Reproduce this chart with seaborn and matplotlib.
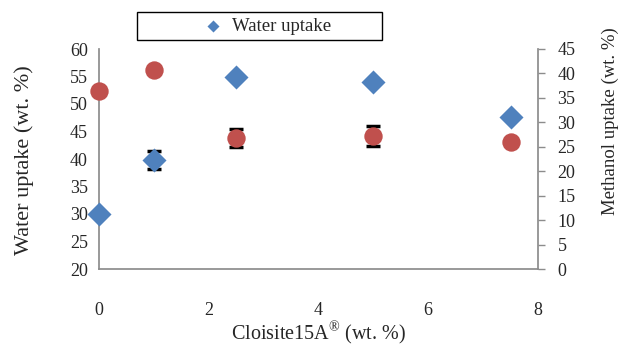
import matplotlib
matplotlib.use("Agg")
import matplotlib.pyplot as plt
import seaborn as sns
import numpy as np
import pandas as pd
from matplotlib.patches import Rectangle

# Data
clay = [0, 1, 2.5, 5, 7.5]
water_uptake = [30.0, 39.8, 54.9, 54.0, 47.7]
water_err = [np.nan, 1.7, np.nan, np.nan, np.nan]
methanol_uptake = [36.4, 40.7, 26.8, 27.2, 25.9]
methanol_err = [np.nan, np.nan, 1.8, 2.0, np.nan]

sns.set_theme(style="white")
plt.rcParams['font.family'] = ['Liberation Serif', 'DejaVu Serif']
plt.rcParams['mathtext.fontset'] = 'custom'
plt.rcParams['mathtext.rm'] = 'Liberation Serif'

df = pd.DataFrame({"clay": clay, "water": water_uptake, "werr": water_err,
                   "meth": methanol_uptake, "merr": methanol_err})

fig = plt.figure(figsize=(6.29, 3.48), dpi=100)
ax = fig.add_axes([99/629, 1-269/348, (538-99)/629, (269-49)/348])
ax2 = ax.twinx()

blue = "#4F81BD"
red = "#C0504D"
txt = "#262626"
grey = "#8C8C8C"

def errs(vals, errv):
    m = ~np.isnan(np.array(errv, dtype=float))
    return np.array(vals)[m], np.array(errv, dtype=float)[m]

xw, ew = errs(clay, water_err)
yw, _ = errs(water_uptake, water_err)
ax.errorbar(xw, yw, yerr=ew, fmt="none", ecolor="black",
            elinewidth=1.2, capsize=5, capthick=2.5, zorder=2, clip_on=False)
sns.scatterplot(data=df, x="clay", y="water", ax=ax, marker="D", s=150,
                color=blue, edgecolor=blue, linewidth=0, clip_on=False,
                label="Water uptake", zorder=3)

xm, em = errs(clay, methanol_err)
ym, _ = errs(methanol_uptake, methanol_err)
ax2.errorbar(xm, ym, yerr=em, fmt="none", ecolor="black",
             elinewidth=1.2, capsize=5, capthick=2.5, zorder=2, clip_on=False)
sns.scatterplot(data=df, x="clay", y="meth", ax=ax2, marker="o", s=175,
                color=red, edgecolor=red, linewidth=0, clip_on=False, legend=False,
                zorder=3)

ax.set_xlim(0, 8)
ax.set_ylim(20, 60)
ax2.set_ylim(0, 45)
ax.set_xticks([0, 2, 4, 6, 8])
ax.set_yticks(range(20, 61, 5))
ax2.set_yticks(range(0, 46, 5))

for s in ["top", "right"]:
    ax.spines[s].set_visible(False)
for s in ["top", "left", "bottom"]:
    ax2.spines[s].set_visible(False)
ax.spines["left"].set_color(grey)
ax.spines["bottom"].set_color(grey)
ax2.spines["right"].set_visible(True)
ax2.spines["right"].set_color(grey)

ax.tick_params(axis="y", left=False, length=0, pad=8, labelsize=13, labelcolor=txt)
ax.tick_params(axis="x", bottom=False, length=0, pad=24, labelsize=13, labelcolor=txt)
ax2.tick_params(axis="y", right=True, length=5, width=1, color=grey, direction="out",
                pad=9, labelsize=13, labelcolor=txt)

ax.set_xlabel("Cloisite15A$^{\u00ae}$ (wt. %)", fontsize=14.5, color=txt)
ax.xaxis.set_label_coords(0.5, -(319 - 269) / 220)
ax.set_ylabel("Water uptake (wt. %)", fontsize=16, color=txt)
ax.yaxis.set_label_coords((34 - 99) / 439, (269 - 160) / 220)
ax2.set_ylabel("Methanol uptake (wt. %)", fontsize=13.5, color=txt)
ax2.yaxis.set_label_coords((602 - 99) / 439, (269 - 121) / 220)

leg = ax.legend(loc="center", bbox_to_anchor=(263/629, 1-26/348),
                bbox_transform=fig.transFigure, frameon=False, fontsize=13.5,
                handletextpad=0.0, markerscale=0.5, borderaxespad=0)
for t in leg.get_texts():
    t.set_color(txt)
fig.patches.append(Rectangle((137/629, 1-40/348), 245/629, 28/348,
                             transform=fig.transFigure, fill=False,
                             edgecolor="black", linewidth=1))

fig.savefig("out.png", dpi=100)
